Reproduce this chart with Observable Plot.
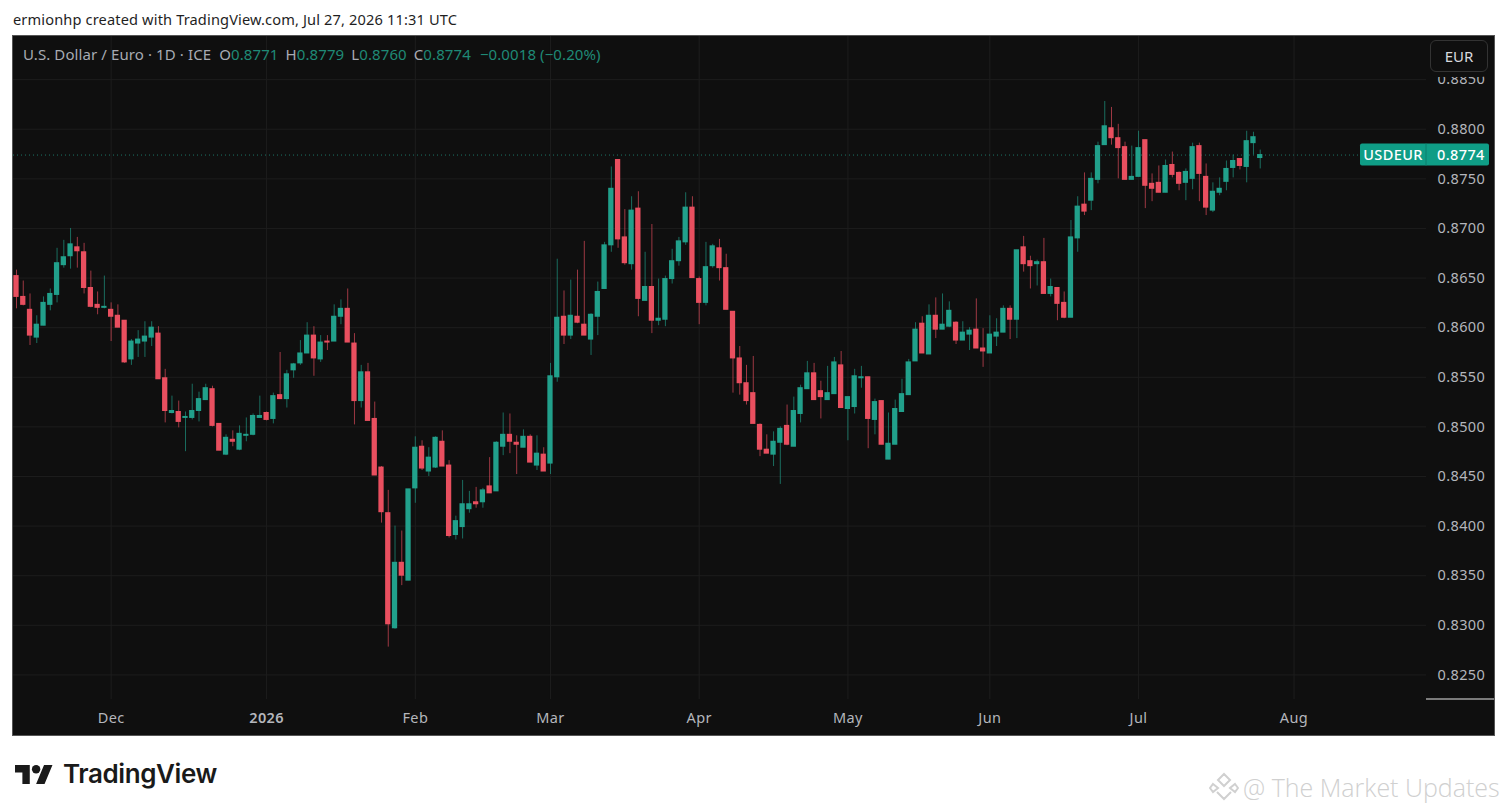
<!DOCTYPE html>
<html>
<head>
<meta charset="utf-8">
<script src="https://cdn.jsdelivr.net/npm/d3@7"></script>
<script src="https://cdn.jsdelivr.net/npm/@observablehq/plot@0.6"></script>
<style>
  html, body { margin: 0; padding: 0; background: #fff; width: 1507px; height: 812px; overflow: hidden; font-family: "Noto Sans", sans-serif; }
  #credit { position: absolute; left: 13px; top: 9px; font-size: 14.6px; line-height: 20px; color: #1f1f1f; letter-spacing: 0.14px; white-space: nowrap; }
  #panel { position: absolute; left: 13px; top: 36px; width: 1481px; height: 699px; box-shadow: 0 0 0 1px #555; }
  #panel svg { display: block; }
  #panel svg text { letter-spacing: 0.4px; }
  #legend { position: absolute; left: 10px; top: 8px; font-size: 15px; line-height: 20px; color: #a8abb3; white-space: nowrap; letter-spacing: 0.1px; }
  #legend b { font-weight: 400; color: #1f8a76; }
  #legend i { font-style: normal; display: inline-block; }
  #unit { position: absolute; left: 1417px; top: 4px; width: 58px; height: 32px; box-sizing: border-box; border: 1px solid #333; border-radius: 6px; background: #0f0f0f; color: #d8d9de; font-size: 15px; line-height: 30px; text-align: center; box-shadow: 0 5px 0 0 #0f0f0f; }
  #logo { position: absolute; left: 15px; top: 763px; display: flex; align-items: center; color: #1a1a1a; font: 600 26px/22px Inter, sans-serif; letter-spacing: -0.4px; }
  #logo svg { margin-right: 10px; }
  #mark { position: absolute; left: 1209px; top: 770px; display: flex; align-items: center; color: #d0d0d0; font: 300 25px/34px "Open Sans", sans-serif; white-space: nowrap; }
  #mark svg { margin-right: 4px; }
</style>
</head>
<body>
<div id="credit">ermionhp created with TradingView.com, Jul 27, 2026 11:31 UTC</div>
<div id="panel"></div>
<div id="logo"><svg width="38" height="19" viewBox="0 4 36 18" preserveAspectRatio="none"><path fill="#1a1a1a" d="M14 22H7V11H0V4h14v18zM28 22h-8l7.5-18h8L28 22z"/><circle fill="#1a1a1a" cx="20" cy="8" r="4"/></svg>TradingView</div>
<div id="mark"><svg width="30" height="30" viewBox="0 0 30 30" fill="none" stroke="#d0d0d0" stroke-width="2"><path d="M15 2l6 6-6 6-6-6zM4 12l5 4-5 4-3-4zM26 12l3 4-3 4-5-4zM8 20l7 7 7-7"/></svg>@ The Market Updates</div>
<script>
const seriesName = "U.S. Dollar / Euro · 1D · ICE";
const symbol = "USDEUR";
const currency = "EUR";
const priceTicks = [0.825, 0.83, 0.835, 0.84, 0.845, 0.85, 0.855, 0.86, 0.865, 0.87, 0.875, 0.88, 0.885];
const monthBars = [14, 37, 59, 79, 101, 123, 144, 166, 189];
const monthLabels = ["Dec", "2026", "Feb", "Mar", "Apr", "May", "Jun", "Jul", "Aug"];
const change = "−0.0018 (−0.20%)";

const opens = [
0.8652,0.8631,0.8618,0.8590,0.8602,0.8623,0.8633,0.8663,0.8672,0.8681,
0.8676,0.8640,0.8623,0.8620,0.8618,0.8612,0.8607,0.8568,0.8584,0.8586,
0.8590,0.8594,0.8549,0.8514,0.8515,0.8509,0.8509,0.8516,0.8527,0.8538,
0.8503,0.8472,0.8487,0.8477,0.8491,0.8492,0.8509,0.8514,0.8508,0.8532,
0.8528,0.8557,0.8564,0.8574,0.8592,0.8568,0.8586,0.8586,0.8611,0.8619,
0.8584,0.8526,0.8555,0.8508,0.8459,0.8413,0.8297,0.8363,0.8345,0.8438,
0.8480,0.8455,0.8459,0.8485,0.8461,0.8391,0.8399,0.8417,0.8424,0.8424,
0.8440,0.8435,0.8480,0.8492,0.8484,0.8479,0.8490,0.8461,0.8472,0.8463,
0.8550,0.8611,0.8592,0.8611,0.8603,0.8588,0.8611,0.8639,0.8683,0.8769,
0.8691,0.8664,0.8720,0.8627,0.8641,0.8607,0.8608,0.8649,0.8667,0.8686,
0.8721,0.8649,0.8625,0.8662,0.8680,0.8660,0.8616,0.8569,0.8544,0.8534,
0.8502,0.8477,0.8472,0.8484,0.8501,0.8480,0.8513,0.8538,0.8554,0.8536,
0.8527,0.8533,0.8562,0.8518,0.8520,0.8549,0.8550,0.8507,0.8526,0.8467,
0.8482,0.8515,0.8532,0.8566,0.8604,0.8573,0.8612,0.8598,0.8601,0.8605,
0.8587,0.8593,0.8598,0.8579,0.8574,0.8591,0.8595,0.8619,0.8608,0.8681,
0.8667,0.8664,0.8666,0.8634,0.8640,0.8625,0.8610,0.8690,0.8724,0.8728,
0.8749,0.8784,0.8801,0.8791,0.8782,0.8749,0.8752,0.8789,0.8745,0.8746,
0.8736,0.8764,0.8756,0.8746,0.8750,0.8783,0.8752,0.8718,0.8736,0.8747,
0.8761,0.8770,0.8762,0.8786,0.8771];

const highs = [
0.8658,0.8647,0.8634,0.8612,0.8631,0.8639,0.8680,0.8688,0.8700,0.8691,
0.8685,0.8657,0.8636,0.8652,0.8625,0.8623,0.8607,0.8588,0.8597,0.8606,
0.8606,0.8601,0.8558,0.8531,0.8526,0.8515,0.8543,0.8535,0.8543,0.8541,
0.8503,0.8492,0.8496,0.8501,0.8509,0.8513,0.8531,0.8515,0.8534,0.8575,
0.8557,0.8564,0.8587,0.8605,0.8601,0.8592,0.8592,0.8623,0.8628,0.8639,
0.8594,0.8562,0.8564,0.8525,0.8460,0.8436,0.8400,0.8395,0.8437,0.8490,
0.8486,0.8479,0.8490,0.8496,0.8466,0.8410,0.8446,0.8435,0.8439,0.8438,
0.8469,0.8485,0.8514,0.8513,0.8491,0.8497,0.8492,0.8491,0.8479,0.8564,
0.8669,0.8637,0.8648,0.8658,0.8687,0.8614,0.8646,0.8686,0.8762,0.8769,
0.8719,0.8732,0.8737,0.8676,0.8704,0.8649,0.8652,0.8679,0.8691,0.8736,
0.8732,0.8651,0.8686,0.8684,0.8689,0.8674,0.8616,0.8581,0.8562,0.8571,
0.8503,0.8492,0.8495,0.8500,0.8522,0.8530,0.8542,0.8566,0.8564,0.8546,
0.8561,0.8570,0.8576,0.8530,0.8558,0.8561,0.8550,0.8528,0.8526,0.8514,
0.8527,0.8548,0.8568,0.8605,0.8611,0.8623,0.8630,0.8634,0.8626,0.8606,
0.8606,0.8600,0.8629,0.8599,0.8612,0.8609,0.8622,0.8622,0.8678,0.8692,
0.8672,0.8668,0.8690,0.8649,0.8640,0.8636,0.8708,0.8732,0.8756,0.8756,
0.8787,0.8828,0.8822,0.8805,0.8787,0.8783,0.8798,0.8789,0.8755,0.8763,
0.8769,0.8777,0.8757,0.8760,0.8786,0.8786,0.8765,0.8746,0.8751,0.8768,
0.8774,0.8770,0.8798,0.8797,0.8779];

const lows = [
0.8619,0.8622,0.8582,0.8584,0.8602,0.8617,0.8625,0.8660,0.8659,0.8660,
0.8634,0.8620,0.8613,0.8619,0.8586,0.8600,0.8564,0.8562,0.8570,0.8570,
0.8581,0.8548,0.8504,0.8513,0.8499,0.8475,0.8507,0.8505,0.8527,0.8500,
0.8476,0.8471,0.8480,0.8476,0.8485,0.8491,0.8509,0.8506,0.8503,0.8528,
0.8519,0.8549,0.8562,0.8574,0.8551,0.8565,0.8577,0.8586,0.8603,0.8585,
0.8502,0.8519,0.8506,0.8451,0.8403,0.8278,0.8296,0.8340,0.8345,0.8423,
0.8456,0.8450,0.8458,0.8460,0.8388,0.8386,0.8387,0.8413,0.8418,0.8418,
0.8433,0.8435,0.8471,0.8473,0.8452,0.8479,0.8464,0.8456,0.8455,0.8452,
0.8545,0.8583,0.8588,0.8604,0.8592,0.8572,0.8592,0.8639,0.8676,0.8680,
0.8663,0.8658,0.8611,0.8627,0.8594,0.8602,0.8601,0.8644,0.8662,0.8683,
0.8650,0.8603,0.8622,0.8660,0.8647,0.8618,0.8534,0.8532,0.8522,0.8503,
0.8470,0.8473,0.8460,0.8442,0.8481,0.8480,0.8504,0.8538,0.8527,0.8508,
0.8527,0.8533,0.8519,0.8486,0.8513,0.8539,0.8478,0.8492,0.8482,0.8467,
0.8482,0.8515,0.8532,0.8566,0.8574,0.8573,0.8589,0.8598,0.8600,0.8583,
0.8587,0.8577,0.8579,0.8560,0.8574,0.8581,0.8595,0.8588,0.8589,0.8656,
0.8639,0.8642,0.8634,0.8631,0.8607,0.8609,0.8610,0.8676,0.8713,0.8718,
0.8745,0.8784,0.8784,0.8750,0.8749,0.8749,0.8752,0.8720,0.8727,0.8736,
0.8736,0.8751,0.8738,0.8728,0.8739,0.8727,0.8713,0.8716,0.8733,0.8738,
0.8751,0.8759,0.8746,0.8774,0.8760];

const closes = [
0.8631,0.8623,0.8592,0.8603,0.8625,0.8634,0.8665,0.8671,0.8684,0.8677,
0.8640,0.8621,0.8620,0.8621,0.8611,0.8600,0.8565,0.8586,0.8588,0.8591,
0.8600,0.8548,0.8516,0.8516,0.8505,0.8510,0.8516,0.8528,0.8539,0.8501,
0.8476,0.8489,0.8485,0.8493,0.8492,0.8511,0.8511,0.8507,0.8531,0.8528,
0.8553,0.8563,0.8574,0.8592,0.8569,0.8585,0.8585,0.8611,0.8619,0.8585,
0.8526,0.8555,0.8506,0.8451,0.8414,0.8301,0.8363,0.8350,0.8437,0.8479,
0.8458,0.8469,0.8489,0.8460,0.8390,0.8405,0.8422,0.8422,0.8422,0.8436,
0.8433,0.8484,0.8492,0.8485,0.8482,0.8490,0.8464,0.8473,0.8455,0.8551,
0.8610,0.8592,0.8612,0.8605,0.8592,0.8613,0.8636,0.8683,0.8740,0.8689,
0.8665,0.8718,0.8629,0.8641,0.8607,0.8609,0.8649,0.8667,0.8687,0.8721,
0.8650,0.8625,0.8661,0.8682,0.8660,0.8618,0.8569,0.8544,0.8526,0.8503,
0.8477,0.8473,0.8485,0.8498,0.8482,0.8516,0.8539,0.8554,0.8527,0.8530,
0.8534,0.8565,0.8519,0.8530,0.8551,0.8550,0.8508,0.8525,0.8482,0.8483,
0.8518,0.8533,0.8565,0.8598,0.8574,0.8612,0.8598,0.8603,0.8617,0.8587,
0.8595,0.8597,0.8579,0.8576,0.8593,0.8595,0.8619,0.8608,0.8678,0.8664,
0.8662,0.8666,0.8634,0.8641,0.8624,0.8610,0.8691,0.8722,0.8717,0.8750,
0.8783,0.8803,0.8791,0.8781,0.8749,0.8752,0.8781,0.8743,0.8740,0.8736,
0.8763,0.8754,0.8745,0.8757,0.8782,0.8755,0.8721,0.8737,0.8740,0.8760,
0.8768,0.8763,0.8788,0.8792,0.8774];

const UP = "#21a08b", DOWN = "#e94f5f", BG = "#0f0f0f", GRID = "#1d1d1d", TEXT = "#b4b6bc", TAG = "#0f9d86";

const candles = opens.map((open, i) => ({ i, open, high: highs[i], low: lows[i], close: closes[i], up: closes[i] >= open }));
const last = candles[candles.length - 1];
const fmt = d3.format(".4f");
const colorOf = (d) => (d.up ? UP : DOWN);
const labelAt = new Map(monthBars.map((b, k) => [b, monthLabels[k]]));

function priceTag(index, { y }, channels, { width, height, marginRight, marginBottom }) {
  const g = d3.create("svg:g").attr("font-size", 14.5).attr("text-anchor", "start");
  const paneRight = width - marginRight;
  const paneBottom = height - marginBottom;
  g.append("line").attr("x1", paneRight).attr("x2", width).attr("y1", paneBottom).attr("y2", paneBottom).attr("stroke", "#e8e8e8");
  const cy = y(last.close);
  g.append("rect").attr("x", paneRight - 66).attr("y", cy - 11).attr("width", 129).attr("height", 22).attr("rx", 2).attr("fill", TAG);
  g.append("line").attr("x1", paneRight).attr("x2", paneRight).attr("y1", cy - 11).attr("y2", cy + 11).attr("stroke", "#0c7f6d");
  g.append("text").attr("x", paneRight - 33).attr("y", cy).attr("dy", "0.35em").attr("text-anchor", "middle").attr("fill", "#fff").attr("font-weight", 500).text(symbol);
  g.append("text").attr("x", paneRight + 11).attr("y", cy).attr("dy", "0.35em").attr("fill", "#fff").attr("font-weight", 500).text(fmt(last.close));
  return g.node();
}

const chart = Plot.plot({
  width: 1481,
  height: 699,
  marginTop: 0,
  marginLeft: 0,
  marginRight: 68,
  marginBottom: 36,
  style: { background: BG, color: TEXT, fontFamily: '"Noto Sans", sans-serif', fontSize: "14px" },
  x: { type: "linear", domain: [-0.444, 208.6], label: null },
  y: { type: "linear", domain: [0.82252, 0.88935], label: null },
  marks: [
    Plot.gridX(monthBars, { stroke: GRID, strokeOpacity: 1 }),
    Plot.gridY(priceTicks, { stroke: GRID, strokeOpacity: 1 }),
    Plot.ruleY([last.close], { stroke: UP, strokeOpacity: 0.7, strokeDasharray: "1,3" }),
    Plot.ruleX(candles, { x: "i", y1: "low", y2: "high", stroke: colorOf, strokeWidth: 1, strokeOpacity: 0.65 }),
    Plot.rect(candles, {
      x1: (d) => d.i - 0.39,
      x2: (d) => d.i + 0.39,
      y1: "open",
      y2: "close",
      fill: colorOf,
      insetTop: -0.5,
      insetBottom: -0.5
    }),
    Plot.axisX(monthBars, { anchor: "bottom", tickSize: 0, tickPadding: 13, tickFormat: (b) => labelAt.get(b), label: null, fill: TEXT, fontSize: 14.5 }),
    Plot.axisY(priceTicks, { anchor: "right", tickSize: 0, tickPadding: 11, tickFormat: fmt, label: null, fill: TEXT, fontSize: 14.5 }),
    priceTag
  ]
});

d3.select(chart).selectAll("text").filter(function () { return this.textContent === "2026"; }).attr("font-weight", 600);

const panel = document.getElementById("panel");
panel.appendChild(chart);

const legend = document.createElement("div");
legend.id = "legend";
legend.innerHTML = `${seriesName}<i style="width:8px"></i>O<b>${fmt(last.open)}</b><i style="width:7px"></i>H<b>${fmt(last.high)}</b><i style="width:7px"></i>L<b>${fmt(last.low)}</b><i style="width:7px"></i>C<b>${fmt(last.close)}</b><i style="width:9px"></i><b>${change}</b>`;
panel.appendChild(legend);

const unit = document.createElement("div");
unit.id = "unit";
unit.textContent = currency;
panel.appendChild(unit);
</script>
</body>
</html>
